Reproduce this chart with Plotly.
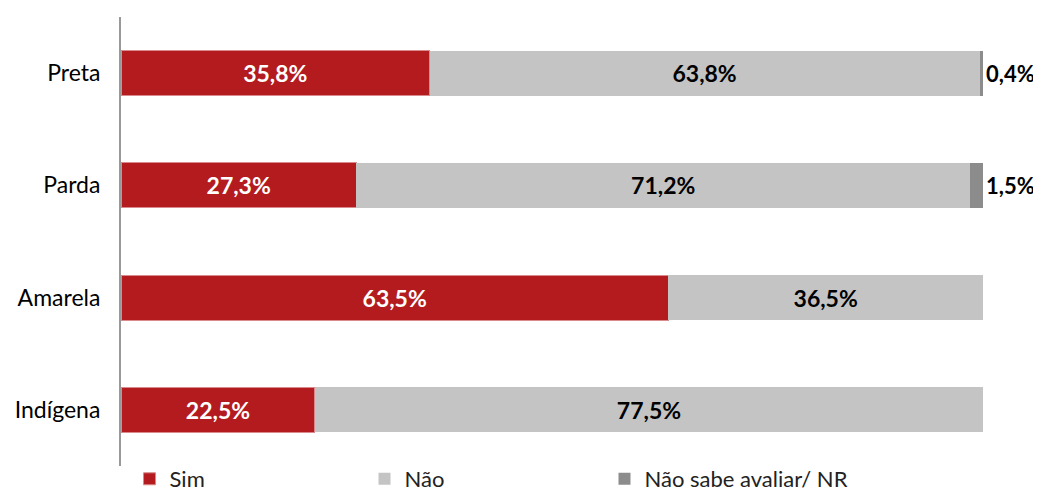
import plotly.graph_objects as go

grupos = ["Preta", "Parda", "Amarela", "Indígena"]
sim = [35.8, 27.3, 63.5, 22.5]
nao = [63.8, 71.2, 36.5, 77.5]
nr = [0.4, 1.5, 0.0, 0.0]


def rotulo(v):
    return (f"{v:.1f}%".replace(".", ",")) if v > 0 else ""


fonte = "Lato"
fig = go.Figure()
fig.add_trace(go.Bar(
    y=grupos, x=sim, name="Sim", orientation="h", legend="legend", showlegend=True,
    marker=dict(color="#B31B1F", line=dict(color="#D88A8C", width=1)),
    text=[rotulo(v) for v in sim], textposition="inside", insidetextanchor="middle",
    textfont=dict(color="white", size=23, family=fonte, weight="bold"),
))
fig.add_trace(go.Bar(
    y=grupos, x=nao, name="Não", orientation="h", legend="legend2", showlegend=True,
    marker=dict(color="#C4C4C4", line=dict(width=0)),
    text=[rotulo(v) for v in nao], textposition="inside", insidetextanchor="middle",
    textfont=dict(color="black", size=23, family=fonte, weight="bold"),
))
fig.add_trace(go.Bar(
    y=grupos, x=nr, name="Não sabe avaliar/ NR", orientation="h", legend="legend3",
    showlegend=True,
    marker=dict(color="#8C8C8C", line=dict(width=0)),
    text=[rotulo(v) for v in nr], textposition="outside", cliponaxis=False,
    textfont=dict(color="black", size=22, family=fonte, weight="bold"),
))

# one legend per series so each entry sits where the reference has it
leg = dict(orientation="h", y=-0.0757, yanchor="bottom", xanchor="left",
           font=dict(size=22, color="#222"), itemwidth=30)

# the page body adds 8px around the plot div, so size and margins allow for it
fig.update_layout(
    barmode="stack", bargap=0.6, showlegend=True,
    width=1033, height=492,
    margin=dict(l=113, r=58, t=9, b=34, autoexpand=False),
    paper_bgcolor="white", plot_bgcolor="white",
    font=dict(family=fonte, size=22, color="black"),
    legend=dict(leg, x=0.0099),
    legend2=dict(leg, x=0.2825),
    legend3=dict(leg, x=0.5609),
)
fig.update_xaxes(range=[0, 100], visible=False, automargin=False)
fig.update_yaxes(categoryorder="array", categoryarray=grupos, autorange="reversed",
                 showline=True, linecolor="#999999", linewidth=2, showgrid=False,
                 automargin=False, ticks="", ticklabelstandoff=14,
                 tickfont=dict(size=23, color="black"))

fig.write_html("out.html")
